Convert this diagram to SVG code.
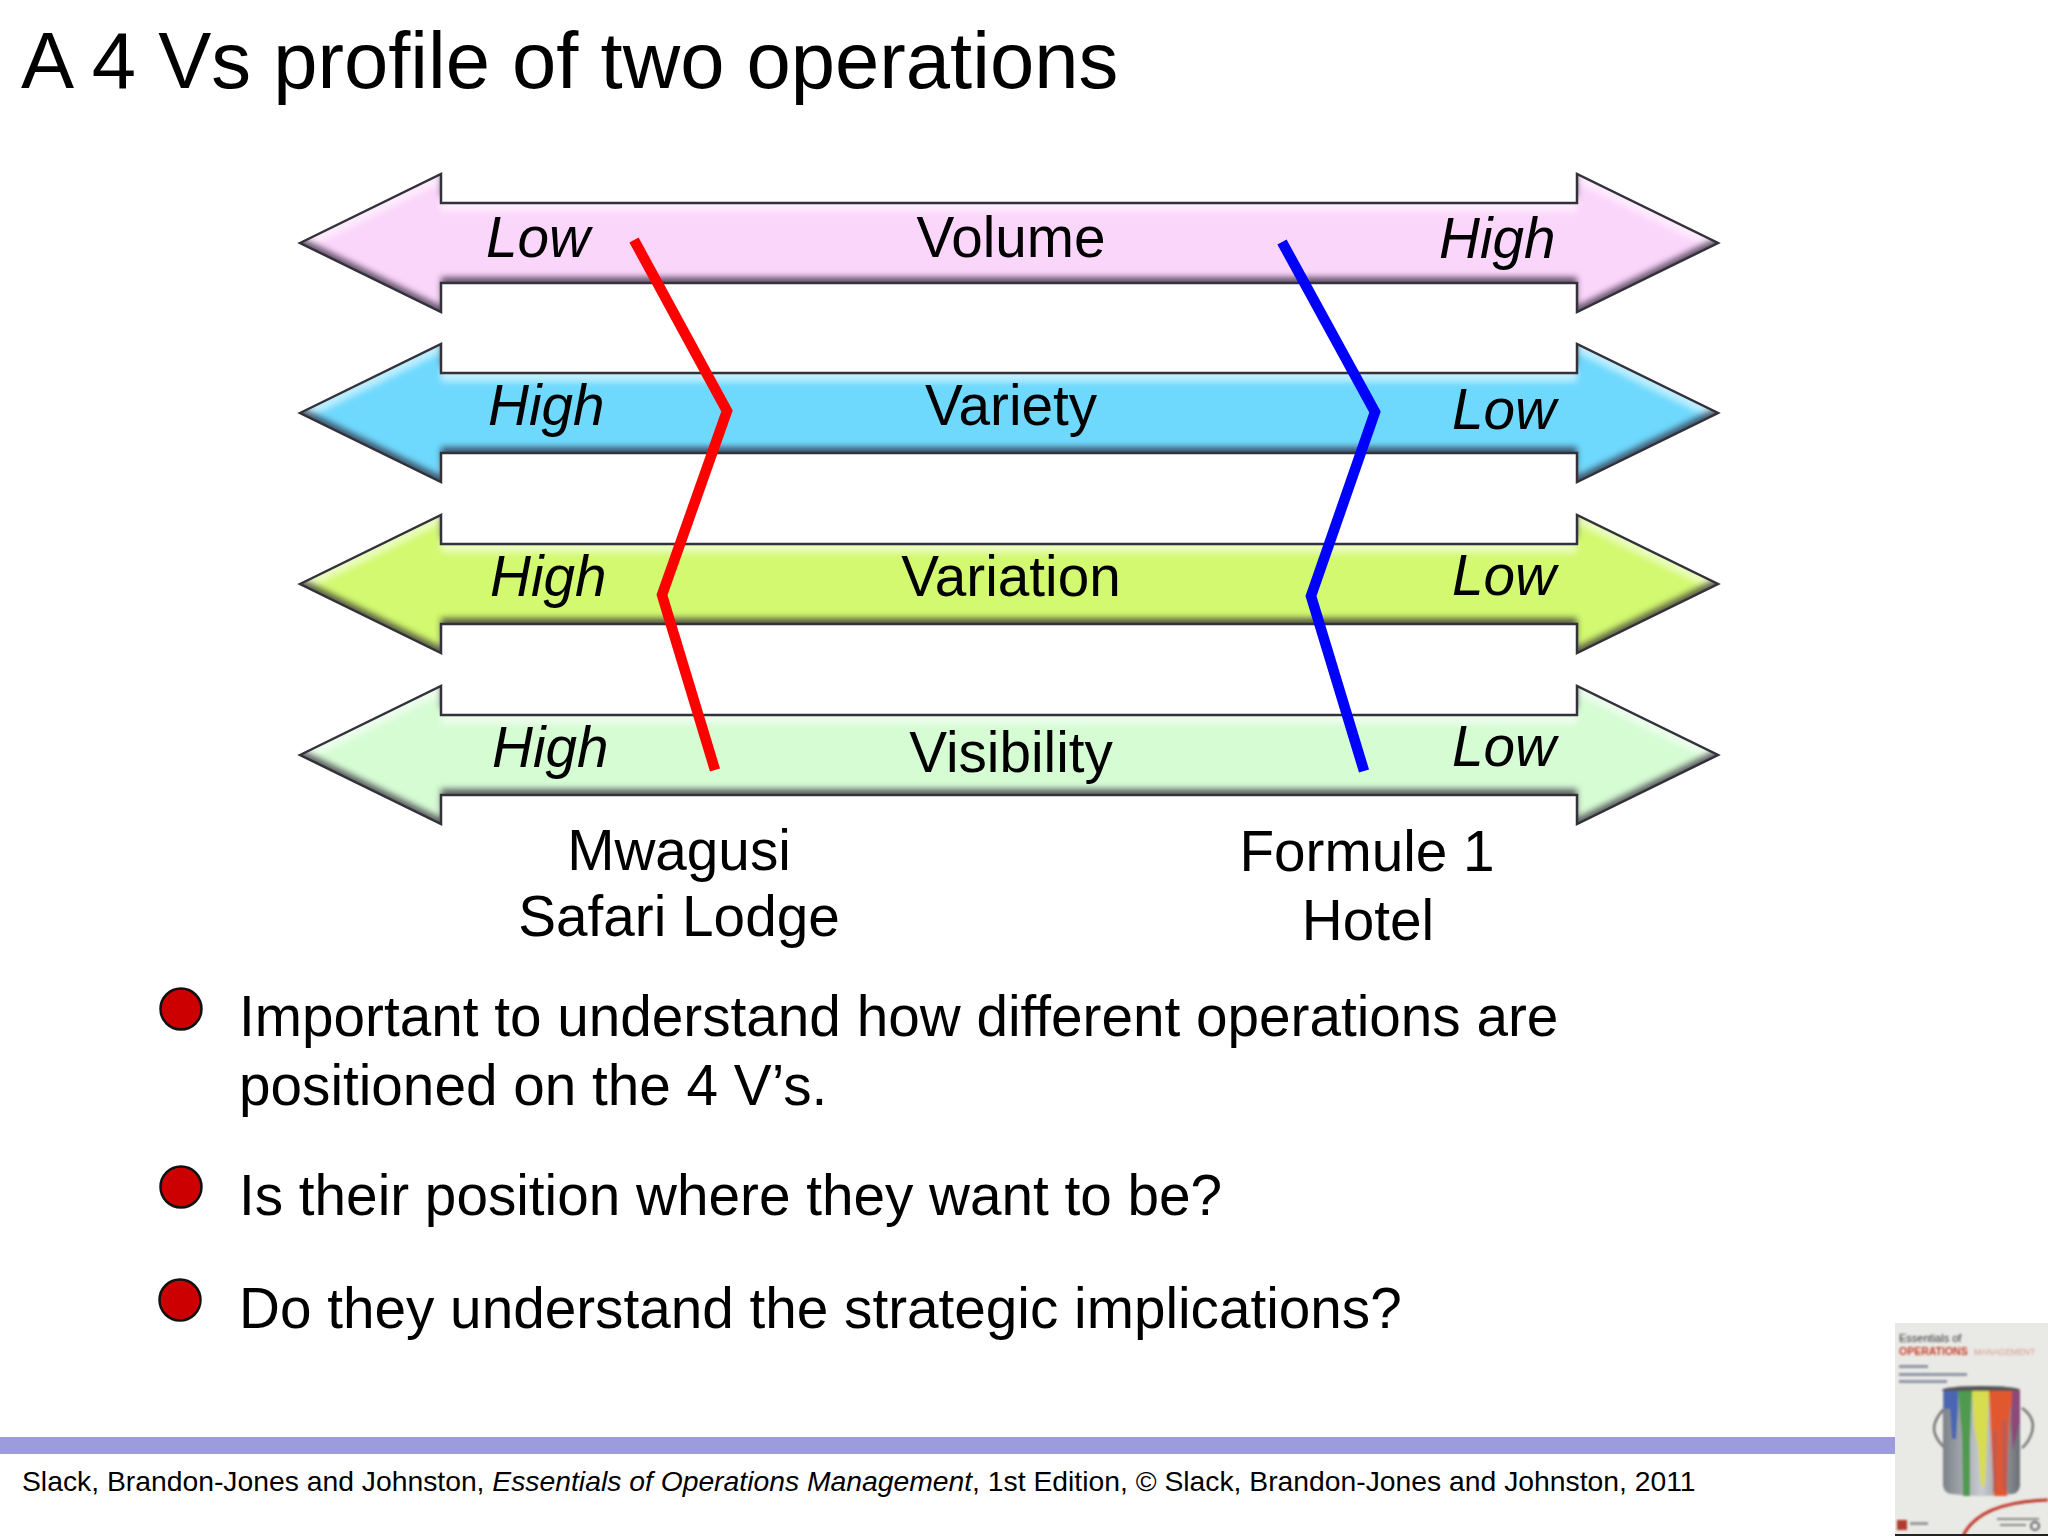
<svg xmlns="http://www.w3.org/2000/svg" width="2048" height="1536" viewBox="0 0 2048 1536">
<style>
text{font-family:"Liberation Sans",Arial,sans-serif;fill:#000}
.t{font-size:56.7px}
.i{font-size:56.7px;font-style:italic}
.m{font-size:56.7px;text-anchor:middle}
.arrow{filter:url(#bevel)}
.edge{fill:none;stroke:#33323a;stroke-width:2.5}
.red{fill:none;stroke:#ff0000;stroke-width:10.5;stroke-linejoin:miter}
.blue{fill:none;stroke:#0000ff;stroke-width:10.5;stroke-linejoin:miter}
.bul{fill:#cc0000;stroke:#111;stroke-width:2.5}
</style>
<defs>
<path id="a" d="M300 0L441 -69V-40H1577V-69L1718 0L1577 69V40H441V69Z"/>
<filter id="bevel" x="-2%" y="-10%" width="104%" height="120%" color-interpolation-filters="sRGB">
<feGaussianBlur in="SourceAlpha" stdDeviation="3" result="b"/>
<feOffset in="b" dx="0" dy="-6" result="o1"/>
<feComposite in="SourceAlpha" in2="o1" operator="out" result="s1"/>
<feFlood flood-color="#281c30" flood-opacity=".7"/>
<feComposite in2="s1" operator="in" result="dark"/>
<feOffset in="b" dx="0" dy="9" result="o2"/>
<feComposite in="SourceAlpha" in2="o2" operator="out" result="s2"/>
<feFlood flood-color="#ffffff" flood-opacity=".55"/>
<feComposite in2="s2" operator="in" result="light"/>
<feMerge><feMergeNode in="SourceGraphic"/><feMergeNode in="light"/><feMergeNode in="dark"/></feMerge>
</filter>
<filter id="soft"><feGaussianBlur stdDeviation="1.2"/></filter>
<filter id="soft2"><feGaussianBlur stdDeviation=".8"/></filter>
<linearGradient id="can" x1="0" x2="1" y1="0" y2="0"><stop offset="0" stop-color="#7d8288"/><stop offset=".5" stop-color="#c9ccd0"/><stop offset="1" stop-color="#6a6f76"/></linearGradient>
</defs>
<rect width="2048" height="1536" fill="#fff"/>
<text id="title" x="21" y="88" style="font-size:79.6px">A 4 Vs profile of two operations</text>

<g id="arrow-volume"><use href="#a" y="243" class="arrow" fill="#fbd6fb"/><use href="#a" y="243" class="edge"/><text class="i" x="486" y="257">Low</text><text class="m" x="1011" y="257">Volume</text><text class="i" x="1439" y="258">High</text></g>
<g id="arrow-variety"><use href="#a" y="413" class="arrow" fill="#6fd9fd"/><use href="#a" y="413" class="edge"/><text class="i" x="488" y="425">High</text><text class="m" x="1011" y="425">Variety</text><text class="i" x="1452" y="429">Low</text></g>
<g id="arrow-variation"><use href="#a" y="584" class="arrow" fill="#d2f96f"/><use href="#a" y="584" class="edge"/><text class="i" x="490" y="596">High</text><text class="m" x="1011" y="596">Variation</text><text class="i" x="1452" y="595">Low</text></g>
<g id="arrow-visibility"><use href="#a" y="755" class="arrow" fill="#d6fcd4"/><use href="#a" y="755" class="edge"/><text class="i" x="492" y="767">High</text><text class="m" x="1011" y="772">Visibility</text><text class="i" x="1452" y="766">Low</text></g>

<g id="connectors">
<polyline class="red" points="634,240 727,411 662,595 715,770"/>
<polyline class="blue" points="1282,242 1375,412 1311,596 1364,771"/>
</g>

<g id="label-mwagusi"><text class="m" x="679" y="870">Mwagusi</text><text class="m" x="679" y="936">Safari Lodge</text></g>
<g id="label-formule"><text class="m" x="1367" y="871">Formule 1</text><text class="m" x="1368" y="940">Hotel</text></g>

<g id="bullet-1"><circle class="bul" cx="181" cy="1009" r="20.5"/><text class="t" x="239" y="1036">Important to understand how different operations are</text><text class="t" x="239" y="1105">positioned on the 4 V’s.</text></g>
<g id="bullet-2"><circle class="bul" cx="181" cy="1187" r="20.5"/><text class="t" x="239" y="1215">Is their position where they want to be?</text></g>
<g id="bullet-3"><circle class="bul" cx="180" cy="1300" r="20.5"/><text class="t" x="239" y="1328">Do they understand the strategic implications?</text></g>

<rect id="bar" x="0" y="1437" width="1895" height="17" fill="#9c9cdc"/>
<text id="footer" x="22" y="1491" style="font-size:28.3px">Slack, Brandon-Jones and Johnston, <tspan font-style="italic">Essentials of Operations Management</tspan>, 1st Edition, © Slack, Brandon-Jones and Johnston, 2011</text>

<g id="book-cover">
<rect x="1895" y="1323" width="153" height="213" fill="#e9e9e6"/>
<g filter="url(#soft2)">
<text x="1899" y="1342" style="font-size:11px;fill:#333">Essentials of</text>
<text x="1899" y="1355" style="font-size:10.5px;font-weight:bold;fill:#c8402c">OPERATIONS</text>
<text x="1974" y="1355" style="font-size:8.5px;fill:#d89a90">MANAGEMENT</text>
<g fill="#8f95a8"><rect x="1899" y="1365" width="29" height="3"/><rect x="1899" y="1373" width="68" height="3"/><rect x="1899" y="1380" width="48" height="3"/></g>
</g>
<g filter="url(#soft)">
<path d="M1945 1408q-14 14 -10 26q3 8 10 14M2022 1408q14 10 10 24q-3 10 -10 16" fill="none" stroke="#777" stroke-width="2.5"/>
<path d="M1943 1390h77v96q-2 8 -8 8q-30 4 -60 0q-7 0 -9-8z" fill="url(#can)"/>
<ellipse cx="1981" cy="1390" rx="39" ry="4" fill="#555"/>
<path d="M1944 1391h14v18l-2 30h-4l-2-30h-6z" fill="#4a66b4"/>
<path d="M1958 1391h14l-2 50v55h-7l-1-60z" fill="#4f9a50"/>
<path d="M1972 1391h17l-2 50-2 45h-4l-3-40-4-20z" fill="#d8dc50"/>
<path d="M1989 1391h25l-4 20-2 40-1 45h-13l-3-60z" fill="#e2592e"/>
<path d="M2002 1420h5v70h-5zM1993 1430h4v62h-4z" fill="#c05a50"/>
<path d="M2012 1391h8v30l-7 30-2-30z" fill="#8d4a78"/>
<path d="M1963 1536q16-34 85-36" fill="none" stroke="#c0392b" stroke-width="3"/>
<path d="M1997 1518h42v2h-42zM2000 1524h26v2h-26z" fill="#888"/><circle cx="2035" cy="1526" r="4" fill="none" stroke="#666" stroke-width="2"/>
<rect x="1897" y="1520" width="10" height="10" fill="#b03a2e"/>
<rect x="1910" y="1522" width="18" height="3" fill="#999"/>
</g>
<rect x="1895" y="1534" width="153" height="2" fill="#222"/>
</g>
</svg>
